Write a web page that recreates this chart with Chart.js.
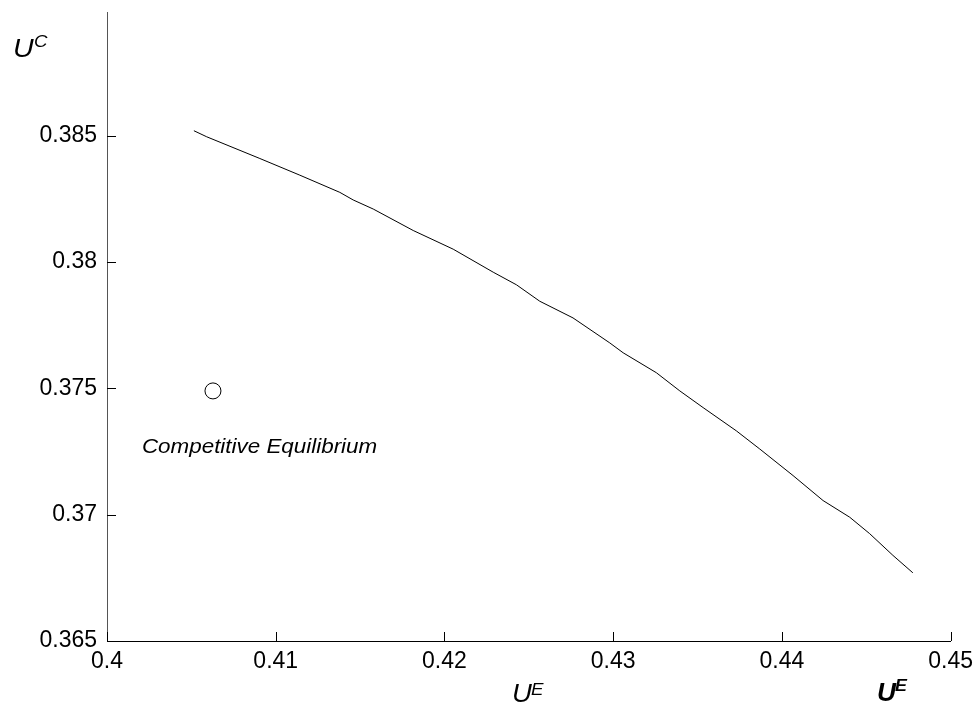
<!DOCTYPE html>
<html>
<head>
<meta charset="utf-8">
<script src="https://cdn.jsdelivr.net/npm/chart.js@4.4.1/dist/chart.umd.min.js"></script>
<style>
  body { margin: 0; background: #fff; }
  #wrap { width: 980px; height: 714px; }
</style>
</head>
<body>
<div id="wrap"><canvas id="chart" width="980" height="714"></canvas></div>
<script>
// ---- data ----
var frontierUE = [0.40515, 0.40591, 0.40906, 0.41143, 0.41380, 0.41459, 0.41578, 0.41815, 0.42052,
                  0.42289, 0.42427, 0.42565, 0.42762, 0.42980, 0.43059, 0.43256, 0.43395, 0.43533,
                  0.43730, 0.43869, 0.44066, 0.44244, 0.44402, 0.44520, 0.44658, 0.44776];
var frontierUC = [0.38520, 0.38496, 0.38410, 0.38344, 0.38276, 0.38246, 0.38210, 0.38125, 0.38051,
                  0.37960, 0.37910, 0.37845, 0.37779, 0.37680, 0.37641, 0.37562, 0.37490, 0.37424,
                  0.37332, 0.37260, 0.37155, 0.37056, 0.36990, 0.36925, 0.36839, 0.36770];
var equilibriumUE = [0.40628];
var equilibriumUC = [0.37490];
var equilibriumLabel = 'Competitive Equilibrium';
var labelAt = { x: 0.40207, y: 0.37245 };

var xTicks = [0.40, 0.41, 0.42, 0.43, 0.44, 0.45];
var xTickLabels = ['0.4', '0.41', '0.42', '0.43', '0.44', '0.45'];
var yTicks = [0.365, 0.370, 0.375, 0.380, 0.385];
var yTickLabels = ['0.365', '0.37', '0.375', '0.38', '0.385'];

function toPoints(xs, ys) {
  return xs.map(function (x, i) { return { x: x, y: ys[i] }; });
}

// draw stretched text (the original figure is a bit wider than tall)
function stretchText(ctx, txt, x, y, font, sx) {
  ctx.save();
  ctx.font = font;
  ctx.translate(x, y);
  ctx.scale(sx, 1);
  ctx.fillText(txt, 0, 0);
  ctx.restore();
}

var extras = {
  id: 'extras',
  afterDraw: function (chart) {
    var ctx = chart.ctx, a = chart.chartArea;
    var xs = chart.scales.x, ys = chart.scales.y;
    ctx.save();
    // inward tick marks
    ctx.strokeStyle = '#000';
    ctx.lineWidth = 1;
    ctx.beginPath();
    xTicks.forEach(function (v) {
      var px = Math.round(xs.getPixelForValue(v)) + 0.5;
      ctx.moveTo(px, a.bottom); ctx.lineTo(px, a.bottom - 9);
    });
    yTicks.forEach(function (v) {
      var py = Math.round(ys.getPixelForValue(v)) + 0.5;
      ctx.moveTo(a.left, py); ctx.lineTo(a.left + 9, py);
    });
    ctx.stroke();

    ctx.fillStyle = '#000';
    ctx.textBaseline = 'alphabetic';
    ctx.textAlign = 'left';
    // annotation
    stretchText(ctx, equilibriumLabel, xs.getPixelForValue(labelAt.x), ys.getPixelForValue(labelAt.y),
      'italic 20px "Liberation Sans", Arial', 1.12);
    // axis labels
    stretchText(ctx, 'U', 13, 57, 'italic 26px "Liberation Sans", Arial', 1.1);
    stretchText(ctx, 'C', 34, 47, 'italic 17px "Liberation Sans", Arial', 1.1);
    stretchText(ctx, 'U', 512, 702, 'italic 25px "Liberation Sans", Arial', 1.1);
    stretchText(ctx, 'E', 531, 695, 'italic 17px "Liberation Sans", Arial', 1.1);
    stretchText(ctx, 'U', 877, 701, 'italic bold 25px "Liberation Sans", Arial', 1.05);
    stretchText(ctx, 'E', 895, 691, 'italic bold 17px "Liberation Sans", Arial', 1.05);
    ctx.restore();
  }
};

var ctx = document.getElementById('chart');

var chartGraph = new Chart(ctx, {
  type: 'scatter',
  data: {
    datasets: [{
      label: 'frontier',
      data: toPoints(frontierUE, frontierUC),
      showLine: true,
      borderColor: '#000',
      borderWidth: 1,
      pointRadius: 0,
      tension: 0
    }, {
      label: 'equilibrium',
      data: toPoints(equilibriumUE, equilibriumUC),
      pointStyle: 'circle',
      pointRadius: 8,
      pointBorderWidth: 1,
      pointBorderColor: '#000',
      pointBackgroundColor: '#fff'
    }]
  },
  options: {
    responsive: false,
    animation: false,
    layout: { padding: { top: 12, right: 29, left: 0, bottom: 0 } },
    plugins: { legend: { display: false }, tooltip: { enabled: false } },
    scales: {
      x: {
        type: 'linear',
        min: 0.4,
        max: 0.45,
        afterBuildTicks: function (s) { s.ticks = xTicks.map(function (v) { return { value: v }; }); },
        afterFit: function (s) { s.height = 73; },
        grid: { display: true, drawOnChartArea: false, drawTicks: false },
        border: { display: true, color: '#000', width: 1 },
        ticks: {
          padding: 7,
          color: '#000',
          font: { family: '"Liberation Sans", Arial', size: 23 },
          maxRotation: 0,
          callback: function (v) { var i = xTicks.indexOf(+v.toFixed(3)); return i >= 0 ? xTickLabels[i] : ''; }
        }
      },
      y: {
        type: 'linear',
        min: 0.365,
        max: 0.3899,
        afterBuildTicks: function (s) { s.ticks = yTicks.map(function (v) { return { value: v }; }); },
        afterFit: function (s) { s.width = 107; s.paddingTop = 0; s.paddingBottom = 0; },
        grid: { display: true, drawOnChartArea: false, drawTicks: false },
        border: { display: true, color: '#555', width: 1 },
        ticks: {
          padding: 10,
          color: '#000',
          font: { family: '"Liberation Sans", Arial', size: 23 },
          callback: function (v) { var i = yTicks.indexOf(+v.toFixed(3)); return i >= 0 ? yTickLabels[i] : ''; }
        }
      }
    }
  },
  plugins: [extras]
});
</script>
</body>
</html>
